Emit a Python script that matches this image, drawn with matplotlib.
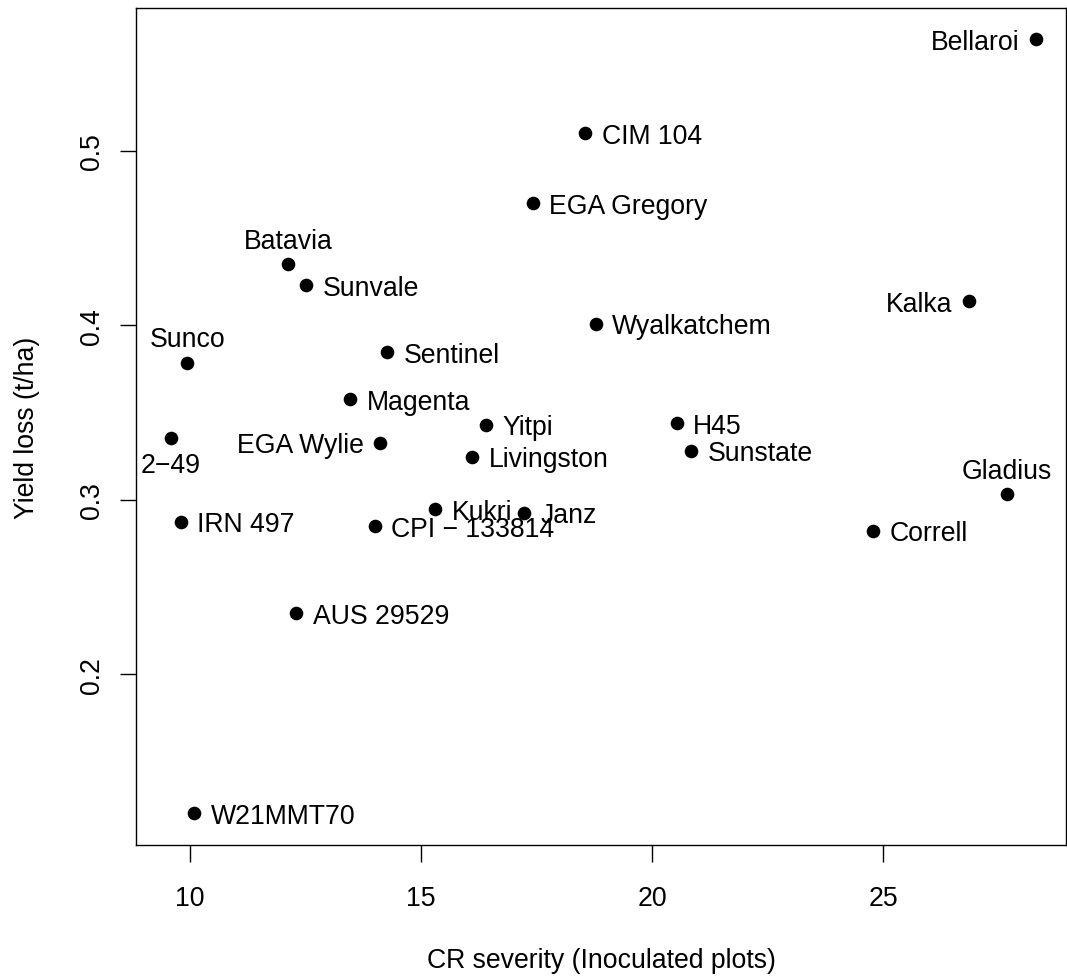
import matplotlib
matplotlib.use("Agg")
import matplotlib.pyplot as plt

plt.rcParams['font.family'] = ['Liberation Sans', 'DejaVu Sans']

# Data
names = ["Bellaroi", "CIM 104", "EGA Gregory", "Batavia", "Sunvale", "Kalka",
         "Wyalkatchem", "Sunco", "Sentinel", "Magenta", "2\u221249", "EGA Wylie",
         "Yitpi", "H45", "Livingston", "Sunstate", "Gladius", "Kukri", "Janz",
         "IRN 497", "CPI \u2212 133814", "Correll", "AUS 29529", "W21MMT70"]
severity = [28.31, 18.56, 17.42, 12.14, 12.52, 26.85,
            18.78, 9.95, 14.28, 13.47, 9.59, 14.12,
            16.40, 20.53, 16.11, 20.85, 27.67, 15.31, 17.24,
            9.81, 14.00, 24.77, 12.31, 10.10]
yield_loss = [0.564, 0.510, 0.470, 0.435, 0.423, 0.414,
              0.401, 0.3785, 0.3846, 0.3577, 0.3354, 0.3327,
              0.3430, 0.3441, 0.3249, 0.3283, 0.3034, 0.2948, 0.2926,
              0.2876, 0.2849, 0.2825, 0.2352, 0.1206]
# label position codes (R style): 1 below, 2 left, 3 above, 4 right
label_pos = [2, 4, 4, 3, 4, 2,
             4, 3, 4, 4, 1, 2,
             4, 4, 4, 4, 3, 4, 4,
             4, 4, 4, 4, 4]
xticks = [10, 15, 20, 25]
yticks = [0.2, 0.3, 0.4, 0.5]

W, H = 1067, 979
DPI = 100
fig = plt.figure(figsize=(W / DPI, H / DPI), dpi=DPI)
left, right, top, bottom = 136, 1066, 9, 846
ax = fig.add_axes([left / W, 1 - bottom / H, (right - left) / W, (bottom - top) / H])

px = 72.0 / DPI  # points per pixel
FS = 19.2

ax.plot(severity, yield_loss, 'o', color='black', markersize=9.8, markeredgewidth=0)

for n, x, y, p in zip(names, severity, yield_loss, label_pos):
    if p == 4:
        off, ha, va = (16.5 * px, -9.5 * px), 'left', 'baseline'
    elif p == 2:
        off, ha, va = (-16.5 * px, -9.5 * px), 'right', 'baseline'
    elif p == 3:
        off, ha, va = (0, 16.5 * px), 'center', 'baseline'
    else:
        off, ha, va = (0, -33.5 * px), 'center', 'baseline'
    ax.annotate(n, (x, y), xytext=off, textcoords='offset points',
                ha=ha, va=va, fontsize=FS, color='black')

ax.set_xlim(8.843, 28.95)
ax.set_ylim(0.1023, 0.5819)
ax.set_xticks(xticks)
ax.set_xticklabels([str(t) for t in xticks])
ax.set_yticks(yticks)
ax.set_yticklabels([f"{t:.1f}" for t in yticks])

for s in ax.spines.values():
    s.set_linewidth(1.0)
ax.tick_params(axis='both', length=16.5 * px, width=1.0, labelsize=FS, color='black')
ax.tick_params(axis='x', pad=16.6)
ax.tick_params(axis='y', pad=10.8, labelrotation=90)
for lab in ax.get_yticklabels():
    lab.set_va('center')

fig.text((left + right) / 2 / W, 1 - 968 / H, "CR severity (Inoculated plots)",
         ha='center', va='baseline', fontsize=FS)
fig.text(34 / W, 1 - (top + bottom) / 2 / H, "Yield loss (t/ha)", rotation=90,
         rotation_mode='anchor', ha='center', va='baseline', fontsize=FS)

fig.savefig("out.png", dpi=DPI)
